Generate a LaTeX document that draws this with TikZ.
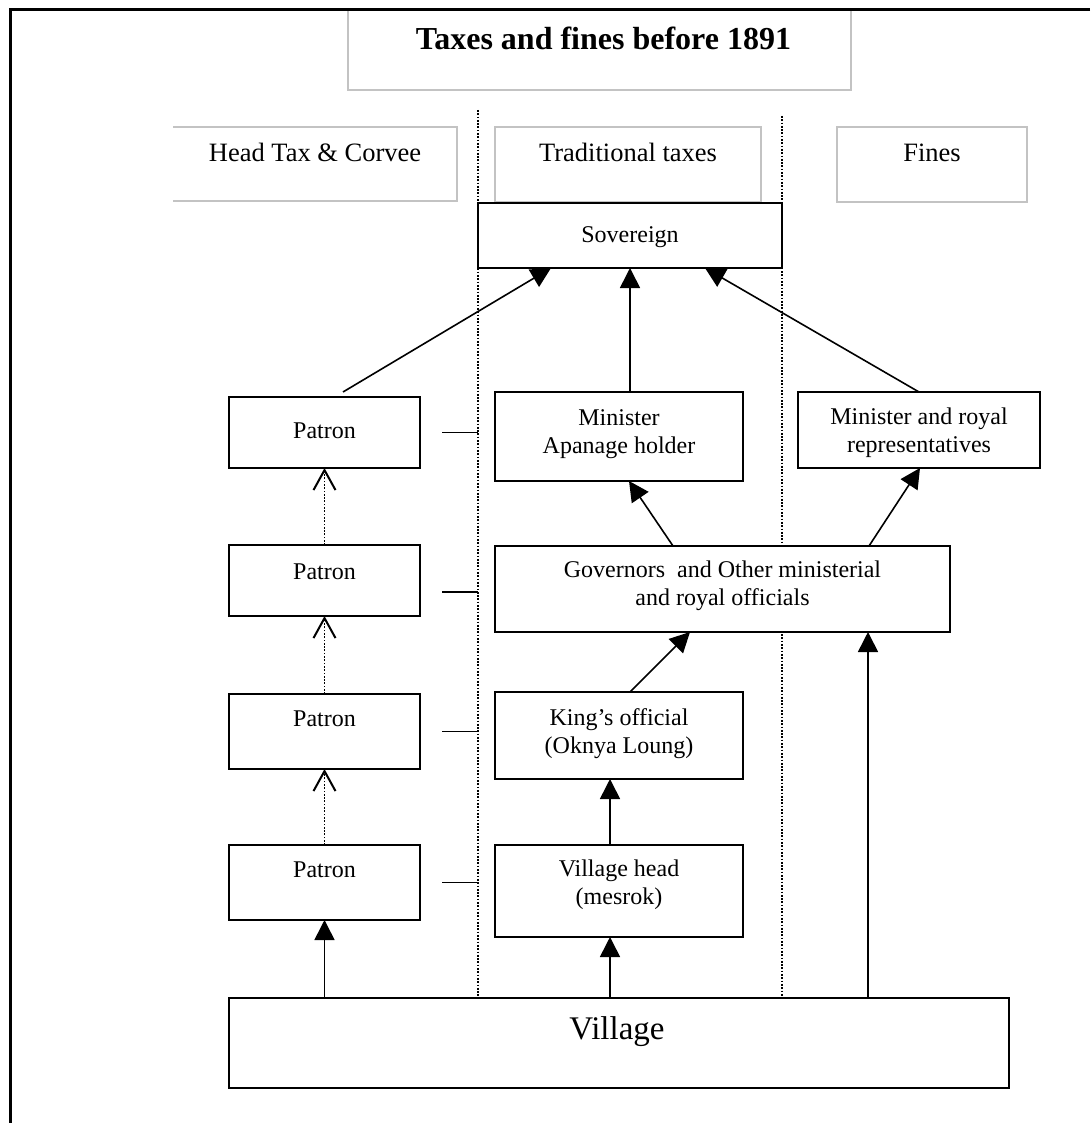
\documentclass[tikz,border=0pt]{standalone}
\usepackage{fontspec}
\setmainfont{Liberation Serif}
\usetikzlibrary{arrows.meta}
\definecolor{hdrgray}{RGB}{195,195,195}
\begin{document}
\begin{tikzpicture}[x=1pt,y=-1pt,
  every node/.style={inner sep=0pt, outer sep=0pt},
  box/.style={draw, line width=2.3pt, fill=white, anchor=north west},
  hdrbox/.style={draw=hdrgray, line width=1.1pt, anchor=north west},
  hdrline/.style={draw=hdrgray, line width=1.1pt},
  lbl/.style={anchor=base, align=center, font=\fontsize{24}{28}\selectfont},
  hdrlbl/.style={anchor=base, font=\fontsize{26.5}{30}\selectfont},
  conn/.style={line width=1.6pt, -{Triangle[length=20pt,width=20pt]}},
  pconn/.style={line width=1.7pt, dash pattern=on 1.7pt off 1.6pt,
    -{Straight Barb[length=20pt,width=22pt,line width=2pt]}},
  divider/.style={line width=1.7pt, dash pattern=on 1.7pt off 1.6pt},
  tick/.style={line width=1.9pt},
]
\useasboundingbox (0,0) rectangle (1090,1123);

% title and column headers
\node[hdrbox, minimum width=503pt, minimum height=80pt] (title) at (348,10) {};
\node[anchor=base, font=\fontsize{32}{36}\selectfont\bfseries] (titlet)
  at ([xshift=4pt,yshift=-40pt]title.north) {Taxes and fines before 1891};

\node[anchor=north west, minimum width=284pt, minimum height=74pt] (h1) at (173,127) {};
\draw[hdrline] (h1.north west) -- (h1.north east) -- (h1.south east) -- (h1.south west);
\node[hdrlbl] (h1t) at ([yshift=-35pt]h1.north) {Head Tax \& Corvee};

\node[hdrbox, minimum width=266pt, minimum height=75pt] (h2) at (495,127) {};
\node[hdrlbl] (h2t) at ([yshift=-35pt]h2.north) {Traditional taxes};

\node[hdrbox, minimum width=190pt, minimum height=75pt] (h3) at (837,127) {};
\node[hdrlbl] (h3t) at ([yshift=-35pt]h3.north) {Fines};

% column dividers
\coordinate (dl) at (478,110);
\coordinate (dr) at (782,116);

% boxes
\node[box, minimum width=780pt, minimum height=90pt] (vil) at (229,998) {};
\draw[divider] (dl) -- (dl |- vil.north);
\draw[divider] (dr) -- (dr |- vil.north);

\node[box, minimum width=304pt, minimum height=65pt] (sov) at (478,203) {};
\node[box, minimum width=191pt, minimum height=71pt] (p1) at (229,397) {};
\node[box, minimum width=191pt, minimum height=71pt] (p2) at (229,545) {};
\node[box, minimum width=191pt, minimum height=75pt] (p3) at (229,694) {};
\node[box, minimum width=191pt, minimum height=75pt] (p4) at (229,845) {};
\node[box, minimum width=248pt, minimum height=89pt] (ma) at (495,392) {};
\node[box, minimum width=242pt, minimum height=76pt] (mr) at (798,392) {};
\node[box, minimum width=455pt, minimum height=86pt] (gov) at (495,546) {};
\node[box, minimum width=248pt, minimum height=87pt] (ko) at (495,692) {};
\node[box, minimum width=248pt, minimum height=92pt] (vh) at (495,845) {};

% labels (two-line labels are placed by the baseline of their last line)
\node[lbl] (sovt) at ([yshift=-40pt]sov.north) {Sovereign};
\node[lbl] (p1t) at ([yshift=-41pt]p1.north) {Patron};
\node[lbl] (p2t) at ([yshift=-34pt]p2.north) {Patron};
\node[lbl] (p3t) at ([yshift=-32pt]p3.north) {Patron};
\node[lbl] (p4t) at ([yshift=-32pt]p4.north) {Patron};
\node[lbl] (mat) at ([yshift=-61pt]ma.north) {Minister\\Apanage holder};
\node[lbl] (mrt) at ([yshift=-60pt]mr.north) {Minister and royal\\representatives};
\node[lbl] (govt) at ([yshift=-59pt]gov.north) {Governors\ \ and Other ministerial\\and royal officials};
\node[lbl] (kot) at ([yshift=-61pt]ko.north) {King’s official\\(Oknya Loung)};
\node[lbl] (vht) at ([yshift=-59pt]vh.north) {Village head\\(mesrok)};
\node[anchor=base, font=\fontsize{33}{38}\selectfont] (vilt)
  at ([xshift=-2pt,yshift=-41pt]vil.north) {Village};

% short ticks from the patron column to the divider
\draw[tick] ([xshift=22pt]p1.east) -- (p1.east -| dl);
\draw[tick] ([xshift=22pt,yshift=-11.5pt]p2.east) -- ++(36,0);
\draw[tick] ([xshift=22pt]p3.east) -- (p3.east -| dl);
\draw[tick] ([xshift=22pt]p4.east) -- (p4.east -| dl);

% flows towards the sovereign
\draw[conn] ([xshift=18.5pt,yshift=5pt]p1.north) -- ([xshift=-79pt]sov.south);
\draw[conn] (sov.south |- ma.north) -- (sov.south);
\draw[conn] (mr.north) -- ([xshift=75pt]sov.south);
\draw[conn] ([xshift=-49.5pt]gov.north) -- ([xshift=10pt]ma.south);
\draw[conn] ([xshift=146.5pt]gov.north) -- ([xshift=1pt]mr.south);
\draw[conn] ([xshift=11pt]ko.north) -- ([xshift=-32.5pt]gov.south);
\coordinate (gvin) at ([xshift=145.5pt]gov.south);
\draw[conn] (gvin |- vil.north) -- (gvin);
\coordinate (koin) at ([xshift=-9pt]ko.south);
\draw[conn] (koin |- vh.north) -- (koin);
\coordinate (vhin) at ([xshift=-9pt]vh.south);
\draw[conn] (vhin |- vil.north) -- (vhin);
\draw[conn] (p4.south |- vil.north) -- (p4.south);

% patron chain
\draw[pconn] (p4.north) -- (p3.south);
\draw[pconn] (p3.north) -- (p2.south);
\draw[pconn] (p2.north) -- (p1.south);

% page frame
\draw[line width=3pt, line join=miter] (1090,10) -- (10,10) -- (10,1123);
\end{tikzpicture}
\end{document}
